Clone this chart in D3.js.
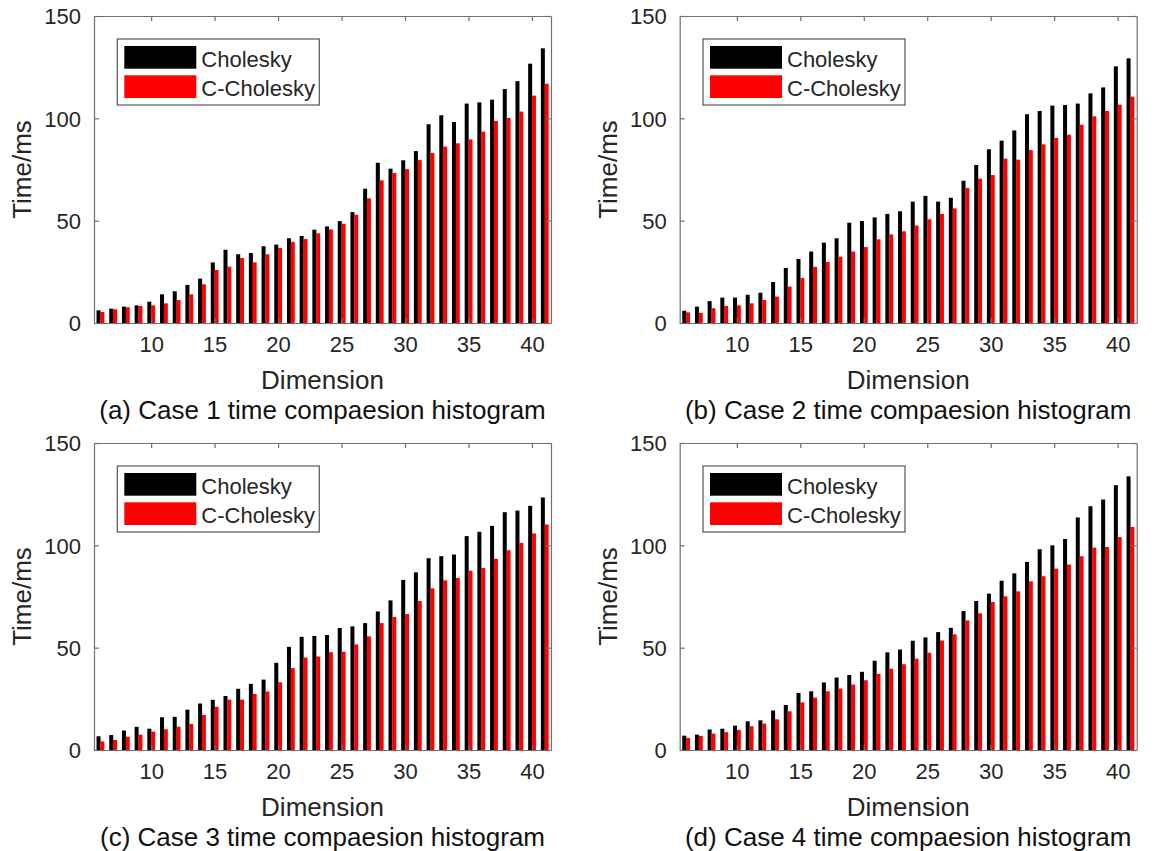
<!DOCTYPE html>
<html>
<head>
<meta charset="utf-8">
<script src="https://cdn.jsdelivr.net/npm/d3@7"></script>
<style>
  body { margin: 0; background: #fff; }
  svg { display: block; font-family: "Liberation Sans", Arial, sans-serif; }
</style>
</head>
<body>
<svg id="chart" width="1155" height="851"></svg>
<script>
// dimensions on the x axis
const dims = [6, 7, 8, 9, 10, 11, 12, 13, 14, 15, 16, 17, 18, 19, 20, 21, 22, 23,
  24, 25, 26, 27, 28, 29, 30, 31, 32, 33, 34, 35, 36, 37, 38, 39, 40, 41];

// case 1
const chol1 = [6.2, 7.0, 8.0, 8.6, 10.4, 14.0, 15.5, 18.6, 21.7, 29.6, 35.8, 33.6, 34.2, 37.5, 38.3, 41.4, 42.5, 45.6,
  47.2, 49.8, 54.2, 65.6, 78.3, 75.4, 79.5, 84.0, 97.1, 101.5, 98.2, 107.2, 107.8, 109.1, 114.3, 118.2, 126.7, 134.2];
const cchol1 = [5.4, 6.7, 7.7, 8.3, 8.6, 9.6, 11.2, 14.0, 18.9, 25.9, 27.5, 31.8, 29.6, 33.6, 36.6, 39.6, 41.0, 43.8,
  45.7, 48.5, 52.9, 60.9, 69.7, 73.3, 75.2, 79.6, 83.1, 86.2, 87.8, 89.7, 93.5, 98.7, 100.2, 103.3, 111.1, 116.9];
// case 2
const chol2 = [6.0, 8.0, 10.7, 12.4, 12.4, 13.8, 14.8, 20.0, 26.9, 31.3, 34.9, 39.3, 41.4, 49.0, 49.8, 51.6, 53.3, 54.6,
  59.3, 62.1, 59.3, 61.2, 69.5, 77.2, 84.9, 89.1, 94.1, 102.0, 103.6, 106.2, 106.5, 107.2, 112.2, 115.1, 125.4, 129.3];
const cchol2 = [5.2, 5.0, 7.2, 8.3, 8.6, 9.6, 11.2, 12.9, 17.8, 22.0, 27.4, 29.8, 32.4, 34.9, 37.1, 40.9, 43.3, 44.8,
  47.6, 50.7, 53.3, 56.0, 66.0, 70.5, 72.3, 80.3, 79.8, 84.5, 87.3, 90.4, 92.0, 96.9, 101.0, 103.6, 106.7, 110.6];
// case 3
const chol3 = [6.7, 7.3, 9.5, 11.3, 10.4, 16.0, 16.2, 19.7, 22.7, 24.5, 26.4, 29.9, 32.3, 34.4, 42.6, 50.4, 55.3, 55.7,
  56.2, 59.6, 60.4, 62.0, 67.7, 73.1, 83.1, 86.8, 93.7, 94.7, 95.5, 104.5, 106.6, 109.5, 116.2, 117.0, 119.3, 123.4];
const cchol3 = [4.2, 4.9, 6.5, 7.5, 9.0, 10.1, 11.4, 12.7, 17.1, 21.1, 24.6, 24.6, 27.4, 28.6, 33.1, 40.0, 45.2, 45.7,
  47.8, 48.0, 51.6, 55.5, 62.0, 65.0, 66.4, 72.8, 79.0, 82.9, 84.1, 87.6, 88.9, 93.4, 97.6, 101.2, 105.8, 110.2];
// case 4
const chol4 = [7.0, 7.5, 10.0, 10.4, 11.9, 14.0, 14.5, 19.3, 22.0, 27.9, 28.7, 33.0, 35.4, 36.6, 38.2, 43.6, 47.7, 49.1,
  53.4, 55.0, 57.6, 59.7, 67.9, 72.8, 76.4, 82.7, 86.3, 91.9, 98.1, 100.0, 103.1, 113.6, 119.1, 122.4, 129.4, 133.7];
const cchol4 = [5.9, 6.9, 8.0, 8.7, 9.8, 11.6, 12.9, 15.0, 18.9, 23.3, 25.6, 28.7, 30.0, 32.0, 34.1, 37.2, 39.7, 41.9,
  44.6, 47.5, 53.5, 56.5, 63.3, 66.8, 72.3, 75.1, 77.5, 82.4, 84.9, 88.6, 90.6, 94.7, 98.9, 99.2, 104.0, 109.0];

const seriesNames = ["Cholesky", "C-Cholesky"];
const seriesColors = ["#000000", "#ff0000"];
const captions = [
  "(a) Case 1 time compaesion histogram",
  "(b) Case 2 time compaesion histogram",
  "(c) Case 3 time compaesion histogram",
  "(d) Case 4 time compaesion histogram"
];
const xTicks = [10, 15, 20, 25, 30, 35, 40];
const yTicks = [0, 50, 100, 150];

const cases = [[chol1, cchol1], [chol2, cchol2], [chol3, cchol3], [chol4, cchol4]];

const svg = d3.select("#chart");
const plotW = 457, plotH = 307;
const origins = [[94, 16], [679.7, 16], [94, 443], [679.7, 443]];
const textColor = "#262626";
const boxColor = "#707070";

cases.forEach((pair, ci) => {
  const [ox, oy] = origins[ci];
  const g = svg.append("g").attr("transform", `translate(${ox},${oy})`);

  const x = d3.scaleLinear().domain([5.5, 41.5]).range([0, plotW]);
  const y = d3.scaleLinear().domain([0, 150]).range([plotH, 0]);
  const step = x(7) - x(6);
  const bw = step * 0.3;

  // bars
  pair.forEach((vals, si) => {
    g.append("g")
      .selectAll("rect")
      .data(dims.map((d, i) => ({ d, v: vals[i] })))
      .enter()
      .append("rect")
      .attr("x", d => x(d.d) - bw + si * bw)
      .attr("width", bw + 0.2)
      .attr("y", d => y(d.v))
      .attr("height", d => y(0) - y(d.v))
      .attr("fill", seriesColors[si]);
  });

  // box with inward ticks
  const bottomAx = g.append("g").attr("transform", `translate(0,${plotH})`)
    .call(d3.axisBottom(x).tickValues(xTicks).tickSizeInner(-5).tickSizeOuter(0).tickPadding(0));
  const topAx = g.append("g")
    .call(d3.axisTop(x).tickValues(xTicks).tickSizeInner(-5).tickSizeOuter(0).tickFormat(""));
  const leftAx = g.append("g")
    .call(d3.axisLeft(y).tickValues(yTicks).tickSizeInner(-5).tickSizeOuter(0).tickPadding(0));
  const rightAx = g.append("g").attr("transform", `translate(${plotW},0)`)
    .call(d3.axisRight(y).tickValues(yTicks).tickSizeInner(-5).tickSizeOuter(0).tickFormat(""));

  [bottomAx, topAx, leftAx, rightAx].forEach(a => {
    a.select(".domain").attr("stroke", boxColor).attr("stroke-width", 1.2);
    a.selectAll(".tick line").attr("stroke", boxColor).attr("stroke-width", 1.2);
  });

  bottomAx.selectAll(".tick text")
    .attr("fill", textColor)
    .style("font-size", "22px")
    .attr("dy", null)
    .attr("y", 29);
  leftAx.selectAll(".tick text")
    .attr("fill", textColor)
    .style("font-size", "22px")
    .attr("x", -13)
    .attr("dy", "0.36em");

  // axis labels
  g.append("text")
    .attr("x", plotW / 2)
    .attr("y", plotH + 65.5)
    .attr("text-anchor", "middle")
    .attr("fill", textColor)
    .style("font-size", "26px")
    .text("Dimension");

  g.append("text")
    .attr("transform", `translate(${-63},${plotH / 2}) rotate(-90)`)
    .attr("text-anchor", "middle")
    .attr("fill", textColor)
    .style("font-size", "26px")
    .text("Time/ms");

  g.append("text")
    .attr("x", plotW / 2)
    .attr("y", plotH + 95.5)
    .attr("text-anchor", "middle")
    .attr("fill", "#111")
    .style("font-size", "26px")
    .text(captions[ci]);

  // legend
  const lg = g.append("g").attr("transform", "translate(23.3,23)");
  lg.append("rect")
    .attr("width", 202).attr("height", 66)
    .attr("fill", "#fff")
    .attr("stroke", "#555").attr("stroke-width", 1.2);
  seriesNames.forEach((name, si) => {
    lg.append("rect")
      .attr("x", 7).attr("y", 7 + si * 29.3)
      .attr("width", 72).attr("height", 22.7)
      .attr("fill", seriesColors[si]);
    lg.append("text")
      .attr("x", 84).attr("y", 27.5 + si * 29.3)
      .attr("fill", textColor)
      .style("font-size", "22px")
      .text(name);
  });
});
</script>
</body>
</html>
